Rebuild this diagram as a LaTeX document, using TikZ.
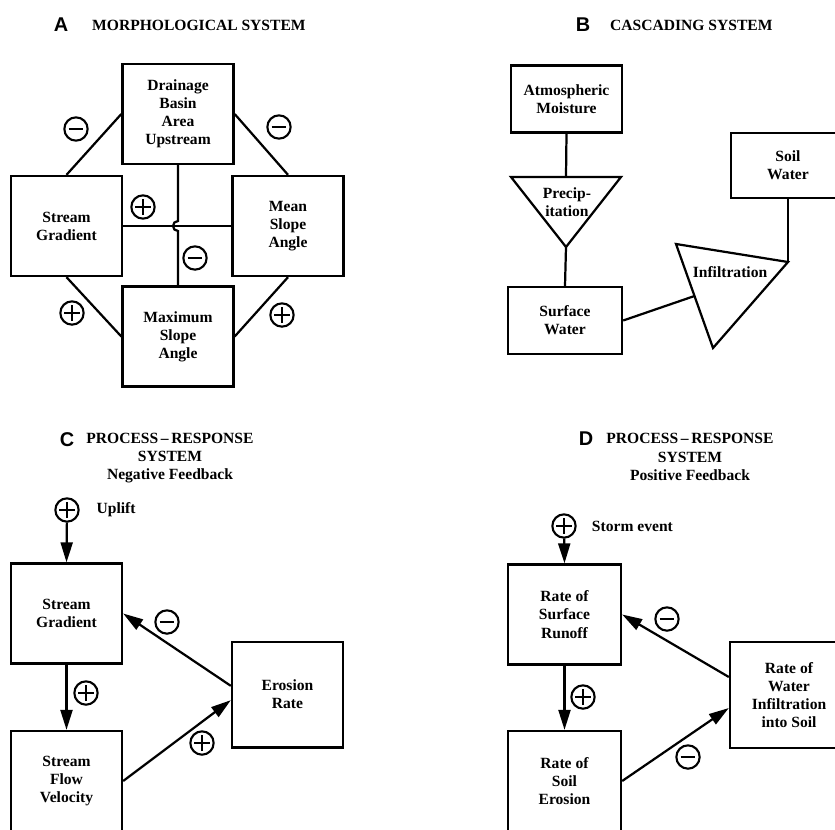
\documentclass[tikz,border=0pt]{standalone}
\usepackage{fontspec}
\setmainfont{Liberation Serif}
\newfontfamily\lettersf{Liberation Sans}
\usetikzlibrary{positioning,arrows.meta,calc}
\tikzset{
  sysbox/.style={draw,line width=2pt,minimum width=3.33cm,minimum height=3cm,
                 inner sep=1pt,align=center,font=\bfseries\fontsize{13.3}{15.5}\selectfont},
  lowbox/.style={sysbox,minimum height=2cm},
  tallbox/.style={sysbox,minimum height=3.17cm},
  link/.style={line width=1.9pt},
  arr/.style={link,-{Triangle[length=0.6cm,width=0.36cm]}},
  sign/.style={circle,draw,line width=1.8pt,minimum size=0.7cm,inner sep=0pt},
  possign/.style={sign,path picture={
      \draw[line width=1.8pt] (path picture bounding box.center)
        +(-0.24cm,0) -- +(0.24cm,0) +(0,-0.24cm) -- +(0,0.24cm);}},
  negsign/.style={sign,path picture={
      \draw[line width=1.8pt] (path picture bounding box.center)
        +(-0.22cm,0) -- +(0.22cm,0);}},
  panel/.style={font=\lettersf\bfseries\fontsize{17}{17}\selectfont,inner sep=0pt},
  heading/.style={font=\bfseries\fontsize{13.3}{15.5}\selectfont,align=center,inner sep=0pt},
  note/.style={font=\bfseries\fontsize{13.3}{15}\selectfont,anchor=west,inner sep=0pt},
  triname/.style={font=\bfseries\fontsize{13.3}{15.5}\selectfont,align=center,inner sep=0pt},
}
\begin{document}
\begin{tikzpicture}[x=0.03cm,y=-0.03cm]
\useasboundingbox (0,0) rectangle (835,829);
\clip (0,0) rectangle (835,829);

% A: morphological system
\node[panel] (ltrA) at (61,25) {A};
\node[heading,anchor=west] (ttlA) at (92,25) {MORPHOLOGICAL SYSTEM};
\node[sysbox] (dba) at (178,114) {Drainage\\Basin\\Area\\Upstream};
\node[sysbox] (sg) at (66.5,226) {Stream\\Gradient};
\node[sysbox] (msa) at (288,226) {Mean\\Slope\\Angle};
\node[sysbox] (max) at (178,336.5) {Maximum\\Slope\\Angle};
\draw[link] (sg.north) -- (dba.west);
\draw[link] (dba.east) -- (msa.north);
\draw[link] (sg.south) -- (max.west);
\draw[link] (msa.south) -- (max.east);
\draw[link] (sg.east) -- (msa.west);
\draw[link] (dba.south) -- ($(dba.south |- sg.east)+(0,-5)$)
  arc[start angle=90,end angle=270,radius=0.15cm] -- (max.north);
\node[negsign] (sgA1) at (76,129) {};
\node[negsign] (sgA2) at (279,127) {};
\node[possign] (sgA3) at (143,207) {};
\node[negsign] (sgA4) at (195,258) {};
\node[possign] (sgA5) at (72,313) {};
\node[possign] (sgA6) at (282,315) {};

% B: cascading system
\node[panel] (ltrB) at (583,25) {B};
\node[heading,anchor=west] (ttlB) at (610,25) {CASCADING SYSTEM};
\node[lowbox] (am) at (566.5,99) {Atmospheric\\Moisture};
\node[lowbox,minimum width=3.42cm] (sw) at (565,320.5) {Surface\\Water};
\node[lowbox,minimum width=3.42cm,minimum height=1.95cm] (soil) at (788,165.5) {Soil\\Water};
\coordinate (pL) at (511,177);
\coordinate (pR) at (621,177);
\coordinate (pA) at (566,247);
\coordinate (pT) at ($(pL)!0.5!(pR)$);
\draw[link] (pL) -- (pR) -- (pA) -- cycle;
\node[triname] (precip) at (567,202) {Precip-\\itation};
\coordinate (iL) at (676,244);
\coordinate (iR) at (788,262);
\coordinate (iB) at (713,348);
\coordinate (iS) at ($(iL)!0.5!(iB)$);
\draw[link] (iL) -- (iR) -- (iB) -- cycle;
\node[triname] (infil) at (730,272) {Infiltration};
\draw[link] (am.south) -- (pT);
\draw[link] (pA) -- (sw.north);
\draw[link] (sw.east) -- (iS);
\draw[link] (soil.south) -- (iR);

% C: process-response, negative feedback
\node[panel] (ltrC) at (67,440) {C};
\node[heading] (ttlC) at (170,458) {PROCESS\,--\,RESPONSE\\SYSTEM\\Negative Feedback};
\node[possign] (upl) at (67,510) {};
\node[note,right=0.5cm of upl] (upltxt) {Uplift};
\node[sysbox] (sgC) at (66.5,613.5) {Stream\\Gradient};
\node[sysbox] (sfv) at (66.5,781) {Stream\\Flow\\Velocity};
\node[tallbox] (er) at (287.5,694.5) {Erosion\\Rate};
\draw[arr] (upl) -- (sgC.north);
\draw[arr] (sgC.south) -- (sfv.north);
\draw[arr] ([yshift=0.26cm]er.west) -- (sgC.east);
\draw[arr] (sfv.east) -- ([yshift=-0.17cm]er.west);
\node[negsign] (sgC1) at (167,622) {};
\node[possign] (sgC2) at (86,693) {};
\node[possign] (sgC3) at (202,743) {};

% D: process-response, positive feedback
\node[panel] (ltrD) at (586,439) {D};
\node[heading] (ttlD) at (690,457) {PROCESS\,--\,RESPONSE\\SYSTEM\\Positive Feedback};
\node[possign] (storm) at (564,526) {};
\node[note,right=0.45cm of storm] (stormtxt) {Storm event};
\node[sysbox,minimum width=3.39cm] (rsr) at (564.5,614.5) {Rate of\\Surface\\Runoff};
\node[sysbox,minimum width=3.39cm] (rse) at (564.5,781) {Rate of\\Soil\\Erosion};
\node[tallbox,minimum width=3.54cm] (rwi) at (789,695) {Rate of\\Water\\Infiltration\\into Soil};
\draw[arr] (storm) -- (rsr.north);
\draw[arr] (rsr.south) -- (rse.north);
\draw[arr] ([yshift=0.54cm]rwi.west) -- (rsr.east);
\draw[arr] (rse.east) -- ([yshift=-0.39cm]rwi.west);
\node[negsign] (sgD1) at (667,619) {};
\node[possign] (sgD2) at (583,697) {};
\node[negsign] (sgD3) at (688,757) {};
\end{tikzpicture}
\end{document}
